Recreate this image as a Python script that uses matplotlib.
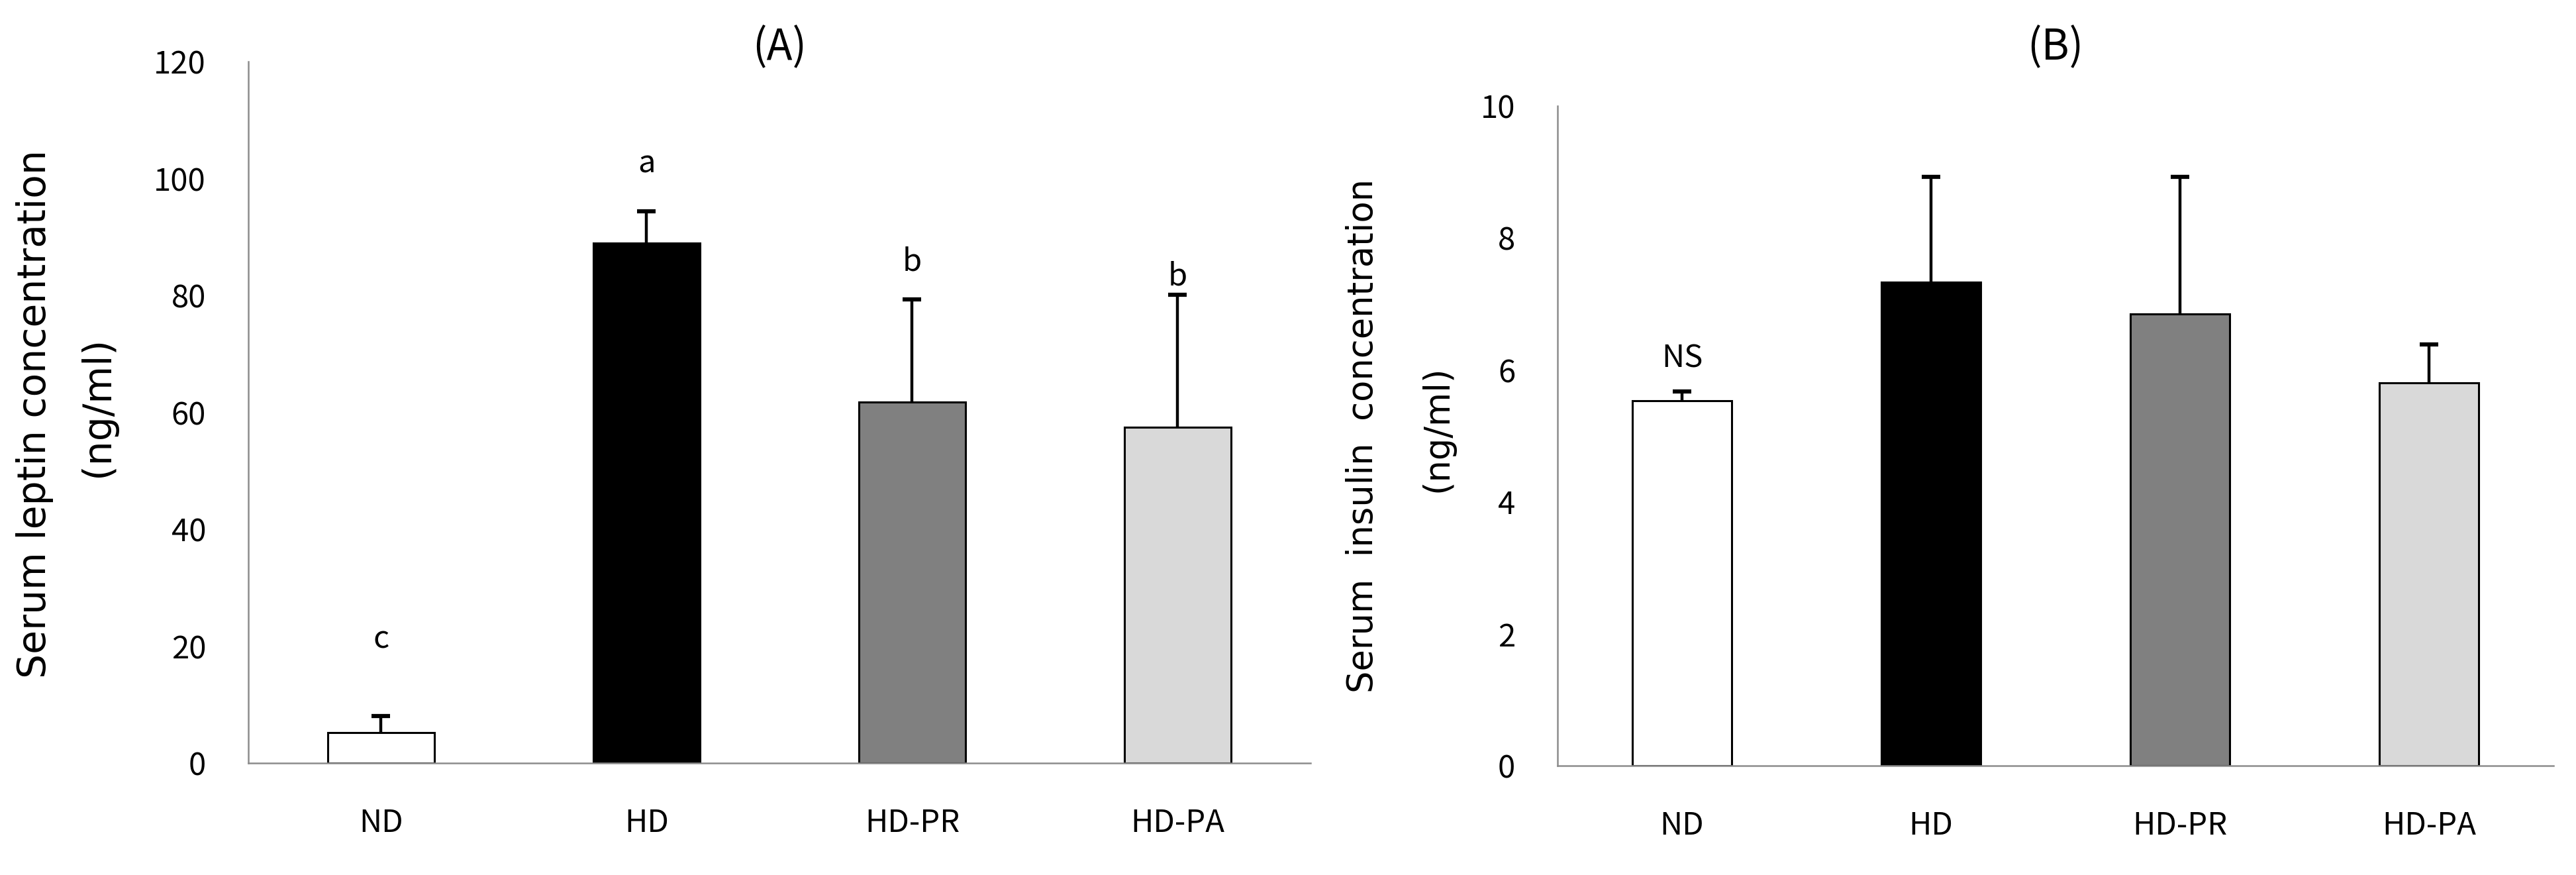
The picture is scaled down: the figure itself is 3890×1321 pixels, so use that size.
import numpy as np
import matplotlib
matplotlib.use("Agg")
import matplotlib.pyplot as plt

groups = ["ND", "HD", "HD-PR", "HD-PA"]
bar_colors = ["#ffffff", "#000000", "#808080", "#d9d9d9"]

# (A) serum leptin, ng/ml
leptin_mean = [5.2, 89.0, 61.8, 57.4]
leptin_err = [2.8, 5.4, 17.5, 22.7]
leptin_sig = ["c", "a", "b", "b"]
leptin_sig_y = [21.2, 102.5, 85.7, 83.3]

# (B) serum insulin, ng/ml
insulin_mean = [5.53, 7.33, 6.85, 5.80]
insulin_err = [0.14, 1.60, 2.08, 0.59]
insulin_sig = ["NS", "", "", ""]
insulin_sig_y = [6.17, 0, 0, 0]

W, H, DPI = 3890, 1321, 100
tick_font = ["Noto Sans CJK KR", "DejaVu Sans"]
label_font = ["DejaVu Sans"]
spine_gray = "#8c8c8c"

fig = plt.figure(figsize=(W / DPI, H / DPI), dpi=DPI)


def draw_panel(rect, means, errs, sig, sig_y, ymax, ystep):
    ax = fig.add_axes(rect)
    x = np.arange(len(groups)) + 0.5
    ax.bar(x, means, width=0.4, color=bar_colors, edgecolor="black",
           linewidth=2.2, zorder=2)
    # only the upper half of the error bar is shown
    eb = ax.errorbar(x, means, yerr=[np.zeros(len(errs)), errs], fmt="none",
                     ecolor="black", elinewidth=3.2, capsize=10, capthick=4.5,
                     zorder=3)
    eb[1][0].set_visible(False)  # no cap at the bar top
    for xi, s, yi in zip(x, sig, sig_y):
        if s:
            ax.text(xi, yi, s, ha="center", va="center", fontsize=34,
                    family=tick_font)
    ax.set_xlim(0, len(groups))
    ax.set_ylim(0, ymax)
    ax.set_yticks(np.arange(0, ymax + ystep / 2, ystep))
    ax.set_xticks(x)
    ax.set_xticklabels(groups)
    for lab in ax.get_xticklabels() + ax.get_yticklabels():
        lab.set_family(tick_font)
        lab.set_fontsize(34)
    ax.tick_params(axis="y", length=0, pad=46)
    ax.tick_params(axis="x", length=0, pad=48)
    for side in ["top", "right"]:
        ax.spines[side].set_visible(False)
    for side in ["left", "bottom"]:
        ax.spines[side].set_color(spine_gray)
        ax.spines[side].set_linewidth(1.8)
    return ax


axA = draw_panel([0.0964, 0.1279, 0.4123, 0.8017],
                 leptin_mean, leptin_err, leptin_sig, leptin_sig_y, 120, 20)
axB = draw_panel([0.6046, 0.1249, 0.3867, 0.7540],
                 insulin_mean, insulin_err, insulin_sig, insulin_sig_y, 10, 2)

fig.text(0.3025, 0.9455, "(A)", ha="center", va="center", fontsize=46,
         family=tick_font)
fig.text(0.7979, 0.9455, "(B)", ha="center", va="center", fontsize=46,
         family=tick_font)

fig.text(0.0134, 0.527, "Serum leptin concentration", rotation=90,
         ha="center", va="center", fontsize=42, family=label_font)
fig.text(0.0378, 0.535, "(ng/ml)", rotation=90,
         ha="center", va="center", fontsize=42, family=label_font)
fig.text(0.529, 0.502, "Serum  insulin  concentration", rotation=90,
         ha="center", va="center", fontsize=38, family=label_font)
fig.text(0.558, 0.510, "(ng/ml)", rotation=90,
         ha="center", va="center", fontsize=38, family=label_font)

fig.savefig("out.png", dpi=DPI)
